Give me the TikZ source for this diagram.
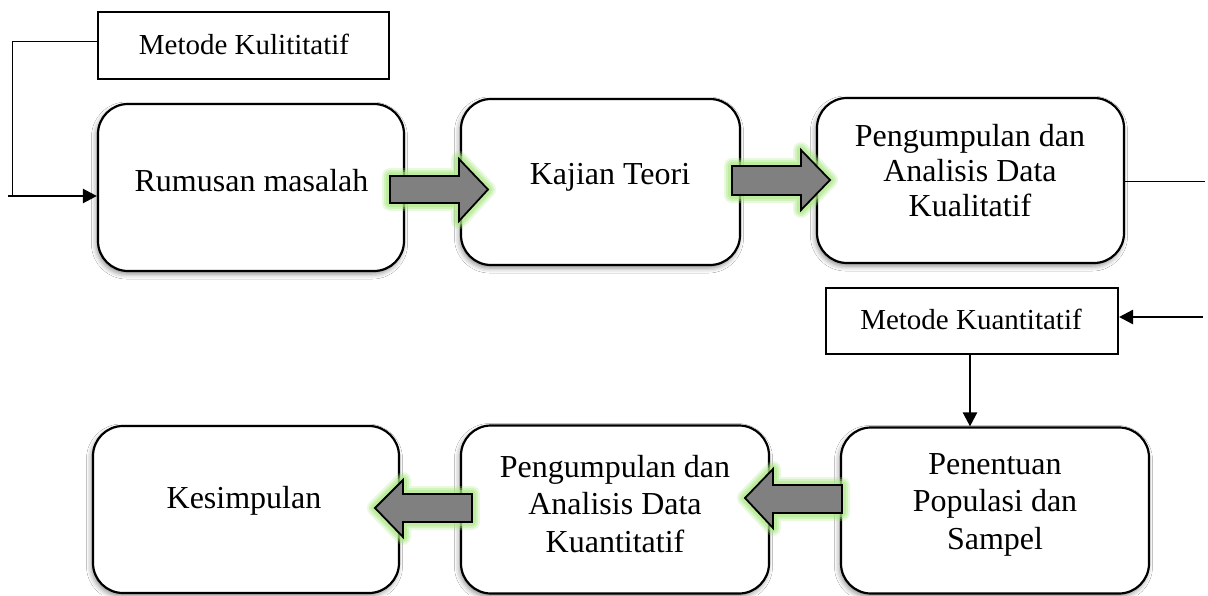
\documentclass[tikz,border=0pt]{standalone}
\usepackage{fontspec}
\setmainfont{Liberation Serif}
\usetikzlibrary{arrows.meta,shadows.blur}
\definecolor{glowc}{RGB}{170,232,130}
\definecolor{arrowgray}{RGB}{128,128,128}
\tikzset{
  roundbox/.style={draw=black, line width=2.2pt, rounded corners=30pt, fill=white,
    blur shadow={shadow xshift=-1.5pt, shadow yshift=-3pt, shadow blur radius=5pt, shadow opacity=45},
    inner sep=0pt},
  methodbox/.style={draw=black, line width=2pt, fill=white, inner sep=0pt},
  bigtext/.style={inner sep=0pt, align=center, font=\fontsize{32}{35}\selectfont},
  bigtextwide/.style={inner sep=0pt, align=center, font=\fontsize{32}{37.5}\selectfont},
  smalltext/.style={inner sep=0pt, align=center, font=\fontsize{29}{30}\selectfont},
  thinline/.style={draw=black, line width=1pt},
  linkarrow/.style={draw=black, line width=2.4pt, -{Triangle[length=14pt,width=14pt]}},
  blockarrow/.style={fill=arrowgray, draw=black, line width=1.8pt, line join=miter,
    preaction={draw=glowc, line width=16pt, opacity=0.25, line join=round},
    preaction={draw=glowc, line width=12pt, opacity=0.35, line join=round},
    preaction={draw=glowc, line width=8pt, opacity=0.5, line join=round}}
}
\begin{document}
\begin{tikzpicture}[x=1pt,y=-1pt]
\clip (0,0) rectangle (1208,595);
\fill[white] (0,0) rectangle (1208,595);

% method boxes
\node[methodbox, minimum width=291pt, minimum height=67pt] (k1) at (243.5,45.5) {};
\node[smalltext] (tk1) at (244,44) {Metode Kulititatif};
\node[methodbox, minimum width=292pt, minimum height=66pt] (k2) at (972,321) {};
\node[smalltext] (tk2) at (971,319) {Metode Kuantitatif};

% rounded boxes
\node[roundbox, minimum width=306pt, minimum height=167pt] (r1) at (251,187.5) {};
\node[bigtext] (tr1) at (251.5,181) {Rumusan masalah};
\node[roundbox, minimum width=279pt, minimum height=166pt] (r2) at (600.5,182) {};
\node[bigtext] (tr2) at (610,177) {Kajian Teori};
\node[roundbox, minimum width=307pt, minimum height=165pt] (r3) at (970.5,180.5) {};
\node[bigtext] (tr3) at (970,171) {Pengumpulan dan\\Analisis Data\\Kualitatif};

\node[roundbox, minimum width=308pt, minimum height=166pt] (b1) at (995,510.5) {};
\node[bigtextwide] (tb1) at (995,504.5) {Penentuan\\Populasi dan\\Sampel};
\node[roundbox, minimum width=308pt, minimum height=168pt] (b2) at (615,509.5) {};
\node[bigtextwide] (tb2) at (615,504) {Pengumpulan dan\\Analisis Data\\Kuantitatif};
\node[roundbox, minimum width=306pt, minimum height=167pt] (b3) at (246,509.5) {};
\node[bigtext] (tb3) at (244,500.5) {Kesimpulan};

% connectors
\coordinate (c1) at (12,196);
\coordinate (c2) at (8,196);
\coordinate (c3) at (1205,181);
\coordinate (c4) at (1203,317);
\draw[thinline] (k1.west |- 0,41) -| (c1);
\draw[linkarrow] (c2) -- (r1.west |- c2);
\draw[thinline] (r3.east |- c3) -- (c3);
\draw[linkarrow] (c4) -- (k2.east |- c4);
\draw[linkarrow] (970,354) coordinate (c5) -- (c5 |- b1.north);

% block arrows
\path[blockarrow] (390,176) -- (459,176) -- (459,159) -- (488,189.5) -- (459,221) -- (459,203) -- (390,203) -- cycle;
\path[blockarrow] (732,166) -- (801,166) -- (801,150) -- (830,180) -- (801,210) -- (801,195) -- (732,195) -- cycle;
\path[blockarrow] (842,485) -- (773,485) -- (773,469) -- (745,498) -- (773,528) -- (773,513) -- (842,513) -- cycle;
\path[blockarrow] (472,494) -- (403,494) -- (403,480) -- (375,508) -- (403,537) -- (403,522) -- (472,522) -- cycle;
\end{tikzpicture}
\end{document}
